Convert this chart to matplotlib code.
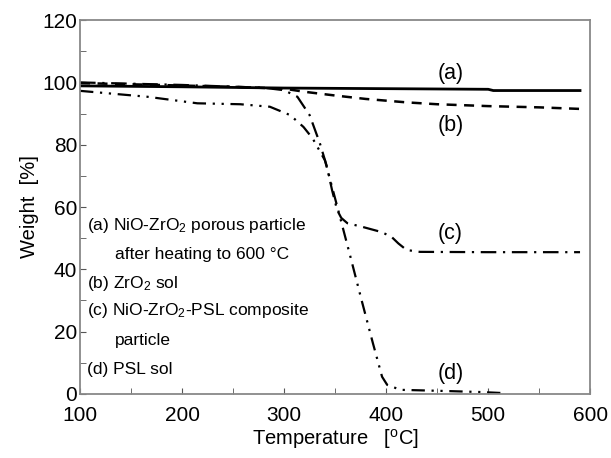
import matplotlib.pyplot as plt
from matplotlib.ticker import MultipleLocator

plt.rcParams['font.family'] = ['Liberation Sans', 'DejaVu Sans']
plt.rcParams['mathtext.default'] = 'regular'

# TG curves: temperature [degC], weight [%]
temp_a = [100, 200, 300, 400, 500, 505, 590]
weight_a = [98.9, 98.6, 98.2, 98.0, 97.8, 97.4, 97.4]

temp_b = [100, 150, 200, 250, 300, 320, 350, 380, 420, 450, 500, 550, 590]
weight_b = [99.8, 99.4, 99.0, 98.6, 98.0, 97.0, 95.8, 94.7, 93.6, 93.0, 92.4, 92.0, 91.5]

temp_c = [100, 200, 280, 300, 313, 325, 335, 342, 347, 352, 356, 362, 377, 395, 405, 412, 420, 433, 500, 590]
weight_c = [100, 99.2, 98.3, 97.5, 95.4, 89.5, 80.5, 72.9, 65.4, 59, 56.5, 54.8, 53.6, 52, 50.5, 48.3, 46.2, 45.6, 45.5, 45.5]

temp_d = [100, 166, 215, 257, 286, 306, 319, 328, 340, 347, 353, 365, 376, 387, 396, 401, 414, 450, 492, 512]
weight_d = [97.3, 95.4, 93.3, 93.0, 92.2, 89.5, 85.7, 82, 75, 66.4, 59, 44, 30, 16.3, 5.5, 2.9, 1.3, 1.0, 0.6, 0.3]

curve_tags = ['(a)', '(b)', '(c)', '(d)']
tag_y = [103, 86.3, 51.6, 6.7]

legend_lines = [
    '(a) NiO-ZrO$_2$ porous particle',
    'after heating to 600 °C',
    '(b) ZrO$_2$ sol',
    '(c) NiO-ZrO$_2$-PSL composite',
    'particle',
    '(d) PSL sol',
]
legend_y = [54.2, 44.6, 35.6, 26.9, 17.3, 7.7]
legend_indent = [False, True, False, False, True, False]

fig = plt.figure(figsize=(6.11, 4.58), dpi=100)
ax = fig.add_axes([0.131, 0.140, 0.835, 0.816])

ax.plot(temp_a, weight_a, color='black', lw=2.0, ls='-')
ax.plot(temp_b, weight_b, color='black', lw=1.8, ls=(0, (4, 3)))
ax.plot(temp_c, weight_c, color='black', lw=1.6, ls=(0, (7, 3, 1, 3)))
ax.plot(temp_d, weight_d, color='black', lw=1.6, ls=(0, (6, 3, 1, 3, 1, 3)))

for tag, y in zip(curve_tags, tag_y):
    ax.text(463, y, tag, fontsize=15.5, ha='center', va='center')

for line, y, ind in zip(legend_lines, legend_y, legend_indent):
    ax.text(134 if ind else 107, y, line, fontsize=12.5, ha='left', va='center')

ax.set_xlim(100, 600)
ax.set_ylim(0, 120)
ax.xaxis.set_major_locator(MultipleLocator(100))
ax.xaxis.set_minor_locator(MultipleLocator(50))
ax.yaxis.set_major_locator(MultipleLocator(20))
ax.yaxis.set_minor_locator(MultipleLocator(10))
ax.tick_params(which='both', direction='in', color='#555555', labelsize=15)
ax.tick_params(axis='x', which='major', length=4, pad=9)
ax.tick_params(axis='y', which='major', length=4, pad=2)
ax.tick_params(which='minor', length=4)
for s in ax.spines.values():
    s.set_color('#888888')
    s.set_linewidth(1.3)

ax.set_xlabel('Temperature   [$^o$C]', fontsize=14.5, labelpad=1)
ax.set_ylabel('Weight  [%]', fontsize=14.5, labelpad=2)

fig.savefig('out.png', dpi=100)
